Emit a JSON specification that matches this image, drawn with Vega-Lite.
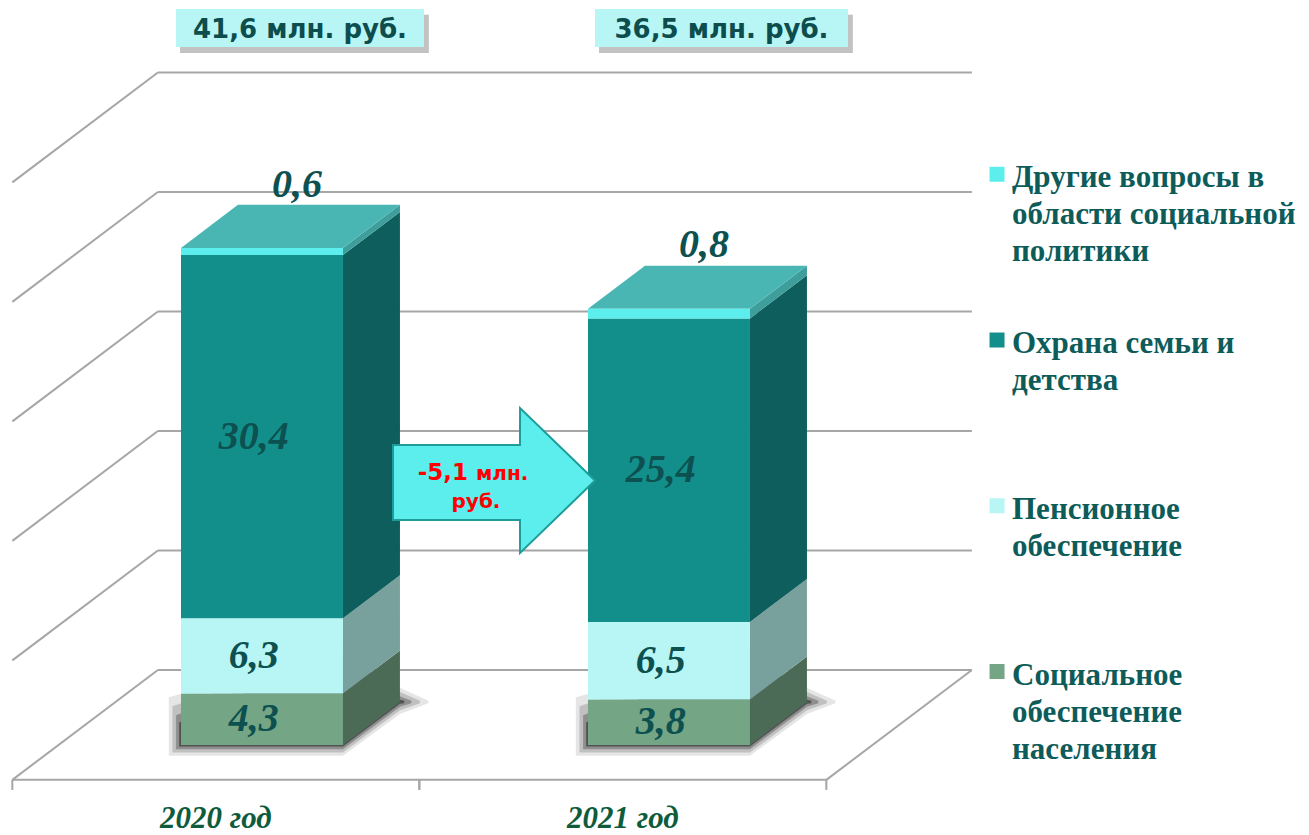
{
  "$schema": "https://vega.github.io/schema/vega-lite/v6.json",
  "width": 1309,
  "height": 835,
  "autosize": "none",
  "padding": 0,
  "background": "white",
  "config": {"view": {"stroke": null}},
  "datasets": {
    "budget": [
      {"year": "2020 год", "cat": "Социальное обеспечение населения", "value": 4.3},
      {"year": "2020 год", "cat": "Пенсионное обеспечение", "value": 6.3},
      {"year": "2020 год", "cat": "Охрана семьи и детства", "value": 30.4},
      {"year": "2020 год", "cat": "Другие вопросы в области социальной политики", "value": 0.6},
      {"year": "2021 год", "cat": "Социальное обеспечение населения", "value": 3.8},
      {"year": "2021 год", "cat": "Пенсионное обеспечение", "value": 6.5},
      {"year": "2021 год", "cat": "Охрана семьи и детства", "value": 25.4},
      {"year": "2021 год", "cat": "Другие вопросы в области социальной политики", "value": 0.8}
    ],
    "grid": [{"t": 0}, {"t": 10}, {"t": 20}, {"t": 30}, {"t": 40}, {"t": 50}],
    "change": [{"from": "2020 год", "to": "2021 год", "delta": -5.1}]
  },
  "layer": [
    {
      "data": {"name": "grid"},
      "transform": [{"calculate": "datum.t + 6.279", "as": "yb"}],
      "mark": {"type": "rule", "stroke": "#A6A6A6", "strokeWidth": 2},
      "encoding": {
        "x": {"datum": -0.2558, "type": "quantitative", "scale": {"domain": [-0.6437, 2.5725], "nice": false, "zero": false}, "axis": null},
        "x2": {"datum": 1.7442},
        "y": {"field": "yb", "type": "quantitative", "scale": {"domain": [-7.531, 62.343], "nice": false, "zero": false}, "axis": null}
      }
    },
    {
      "data": {"name": "grid"},
      "transform": [{"calculate": "datum.t + 6.279", "as": "yb"}, {"calculate": "datum.t - 2.916", "as": "yf"}],
      "mark": {"type": "rule", "stroke": "#A6A6A6", "strokeWidth": 2},
      "encoding": {
        "x": {"datum": -0.2558, "type": "quantitative", "scale": {"domain": [-0.6437, 2.5725], "nice": false, "zero": false}, "axis": null},
        "x2": {"datum": -0.6134},
        "y": {"field": "yb", "type": "quantitative", "scale": {"domain": [-7.531, 62.343], "nice": false, "zero": false}, "axis": null},
        "y2": {"field": "yf"}
      }
    },
    {
      "data": {"name": "grid"},
      "transform": [{"filter": "datum.t == 0"}, {"calculate": "datum.t - 2.916", "as": "yf"}],
      "mark": {"type": "rule", "stroke": "#A6A6A6", "strokeWidth": 2},
      "encoding": {
        "x": {"datum": -0.6134, "type": "quantitative", "scale": {"domain": [-0.6437, 2.5725], "nice": false, "zero": false}, "axis": null},
        "x2": {"datum": 1.3866},
        "y": {"field": "yf", "type": "quantitative", "scale": {"domain": [-7.531, 62.343], "nice": false, "zero": false}, "axis": null}
      }
    },
    {
      "data": {"name": "grid"},
      "transform": [{"filter": "datum.t == 0"}, {"calculate": "datum.t - 2.916", "as": "yf"}, {"calculate": "datum.t + 6.279", "as": "yb"}],
      "mark": {"type": "rule", "stroke": "#A6A6A6", "strokeWidth": 2},
      "encoding": {
        "x": {"datum": 1.3866, "type": "quantitative", "scale": {"domain": [-0.6437, 2.5725], "nice": false, "zero": false}, "axis": null},
        "x2": {"datum": 1.7442},
        "y": {"field": "yf", "type": "quantitative", "scale": {"domain": [-7.531, 62.343], "nice": false, "zero": false}, "axis": null},
        "y2": {"field": "yb"}
      }
    },
    {
      "data": {"name": "budget"},
      "transform": [
        {"calculate": "datum.year == '2020 год' ? 0 : 1", "as": "idx"},
        {"filter": "datum.cat == 'Социальное обеспечение населения'"},
        {"calculate": "[datum.idx - 0.6134, datum.idx + 0.3866]", "as": "tk"},
        {"flatten": ["tk"]}
      ],
      "mark": {"type": "rule", "stroke": "#A6A6A6", "strokeWidth": 2},
      "encoding": {
        "x": {"field": "tk", "type": "quantitative", "scale": {"domain": [-0.6437, 2.5725], "nice": false, "zero": false}, "axis": null},
        "y": {"datum": -2.916, "type": "quantitative", "scale": {"domain": [-7.531, 62.343], "nice": false, "zero": false}, "axis": null},
        "y2": {"datum": -3.76}
      }
    },
    {
      "data": {"name": "budget"},
      "transform": [
        {"calculate": "datum.year == '2020 год' ? 0 : 1", "as": "idx"},
        {"filter": "datum.cat == 'Социальное обеспечение населения'"},
        {"calculate": "[{s: 1.0, op: 0.1}, {s: 0.7, op: 0.16}, {s: 0.4, op: 0.26}, {s: 0.15, op: 0.42}]", "as": "lv"},
        {"flatten": ["lv"]},
        {"calculate": "datum.lv.s", "as": "s"},
        {"calculate": "datum.lv.op", "as": "op"},
        {"calculate": "[{px: -0.199 - 0.03 * datum.s, lo: -0.9 * datum.s, hi: 1.5 + 2.5 * datum.s}, {px: 0.199, lo: -0.9 * datum.s, hi: 8}, {px: 0.339, lo: 3.6 - 1.0 * datum.s, hi: 3.6 + 1.2 * datum.s}, {px: 0.339 + 0.07 * datum.s, lo: 3.5, hi: 3.7}]", "as": "pt"},
        {"flatten": ["pt"]},
        {"calculate": "datum.idx + datum.pt.px", "as": "sx"},
        {"calculate": "datum.pt.lo", "as": "slo"},
        {"calculate": "datum.pt.hi", "as": "shi"},
        {"calculate": "datum.year + '-' + datum.s", "as": "grp"}
      ],
      "mark": {"type": "area", "orient": "vertical", "color": "#000000"},
      "encoding": {
        "x": {"field": "sx", "type": "quantitative", "scale": {"domain": [-0.6437, 2.5725], "nice": false, "zero": false}, "axis": null},
        "y": {"field": "slo", "type": "quantitative", "stack": null, "scale": {"domain": [-7.531, 62.343], "nice": false, "zero": false}, "axis": null},
        "y2": {"field": "shi"},
        "opacity": {"field": "op", "type": "quantitative", "scale": null},
        "detail": {"field": "grp"}
      }
    },
    {
      "data": {"name": "budget"},
      "transform": [
        {"calculate": "datum.year == '2020 год' ? 0 : 1", "as": "idx"},
        {"calculate": "indexof(['Социальное обеспечение населения','Пенсионное обеспечение','Охрана семьи и детства','Другие вопросы в области социальной политики'], datum.cat)", "as": "ord"},
        {"stack": "value", "groupby": ["year"], "sort": [{"field": "ord", "order": "ascending"}], "as": ["v0", "v1"]},
        {"calculate": "[0, 1]", "as": "k"},
        {"flatten": ["k"]},
        {"calculate": "datum.idx + 0.199 + datum.k * 0.14", "as": "sx"},
        {"calculate": "datum.v0 + datum.k * 3.6", "as": "slo"},
        {"calculate": "datum.v1 + datum.k * 3.6", "as": "shi"},
        {"calculate": "'s' + datum.ord", "as": "key"}
      ],
      "mark": {"type": "area", "orient": "vertical"},
      "encoding": {
        "x": {"field": "sx", "type": "quantitative", "scale": {"domain": [-0.6437, 2.5725], "nice": false, "zero": false}, "axis": null},
        "y": {"field": "slo", "type": "quantitative", "stack": null, "scale": {"domain": [-7.531, 62.343], "nice": false, "zero": false}, "axis": null},
        "y2": {"field": "shi"},
        "color": {"field": "key", "type": "nominal", "legend": null, "scale": {"domain": ["f0", "f1", "f2", "f3", "s0", "s1", "s2", "s3", "t"], "range": ["#74A585", "#B8F6F5", "#128F8B", "#5BEEEC", "#4C6B57", "#78A09D", "#0D5E5C", "#3D9E9C", "#49B6B4"]}},
        "detail": {"field": "year"}
      }
    },
    {
      "data": {"name": "budget"},
      "transform": [
        {"calculate": "datum.year == '2020 год' ? 0 : 1", "as": "idx"},
        {"calculate": "indexof(['Социальное обеспечение населения','Пенсионное обеспечение','Охрана семьи и детства','Другие вопросы в области социальной политики'], datum.cat)", "as": "ord"},
        {"stack": "value", "groupby": ["year"], "sort": [{"field": "ord", "order": "ascending"}], "as": ["v0", "v1"]},
        {"filter": "datum.ord == 3"},
        {"calculate": "[0, 1]", "as": "k"},
        {"flatten": ["k"]},
        {"calculate": "datum.v1 + datum.k * 3.6", "as": "tv"},
        {"calculate": "datum.idx - 0.199 + datum.k * 0.14", "as": "tx1"},
        {"calculate": "datum.idx + 0.199 + datum.k * 0.14", "as": "tx2"},
        {"calculate": "'t'", "as": "key"}
      ],
      "mark": {"type": "area", "orient": "horizontal"},
      "encoding": {
        "y": {"field": "tv", "type": "quantitative", "scale": {"domain": [-7.531, 62.343], "nice": false, "zero": false}, "axis": null},
        "x": {"field": "tx1", "type": "quantitative", "stack": null, "scale": {"domain": [-0.6437, 2.5725], "nice": false, "zero": false}, "axis": null},
        "x2": {"field": "tx2"},
        "color": {"field": "key", "type": "nominal", "legend": null},
        "detail": {"field": "year"}
      }
    },
    {
      "data": {"name": "budget"},
      "transform": [
        {"calculate": "datum.year == '2020 год' ? 0 : 1", "as": "idx"},
        {"calculate": "indexof(['Социальное обеспечение населения','Пенсионное обеспечение','Охрана семьи и детства','Другие вопросы в области социальной политики'], datum.cat)", "as": "ord"},
        {"stack": "value", "groupby": ["year"], "sort": [{"field": "ord", "order": "ascending"}], "as": ["v0", "v1"]},
        {"calculate": "datum.idx - 0.199", "as": "xl"},
        {"calculate": "datum.idx + 0.199", "as": "xr"},
        {"calculate": "'f' + datum.ord", "as": "key"}
      ],
      "mark": {"type": "rect"},
      "encoding": {
        "x": {"field": "xl", "type": "quantitative", "scale": {"domain": [-0.6437, 2.5725], "nice": false, "zero": false}, "axis": null},
        "x2": {"field": "xr"},
        "y": {"field": "v0", "type": "quantitative", "scale": {"domain": [-7.531, 62.343], "nice": false, "zero": false}, "axis": null},
        "y2": {"field": "v1"},
        "color": {"field": "key", "type": "nominal", "legend": null}
      }
    },
    {
      "data": {"name": "budget"},
      "transform": [
        {"calculate": "datum.year == '2020 год' ? 0 : 1", "as": "idx"},
        {"calculate": "indexof(['Социальное обеспечение населения','Пенсионное обеспечение','Охрана семьи и детства','Другие вопросы в области социальной политики'], datum.cat)", "as": "ord"},
        {"stack": "value", "groupby": ["year"], "sort": [{"field": "ord", "order": "ascending"}], "as": ["v0", "v1"]},
        {"filter": "datum.ord < 3"},
        {"calculate": "datum.idx - 0.02", "as": "lx"},
        {"calculate": "(datum.v0 + datum.v1) / 2", "as": "ly"},
        {"calculate": "replace(toString(datum.value), '.', ',')", "as": "lab"}
      ],
      "mark": {"type": "text", "font": "Liberation Serif", "fontStyle": "italic", "fontWeight": "bold", "fontSize": 40, "color": "#0D5050", "align": "center", "baseline": "middle"},
      "encoding": {
        "x": {"field": "lx", "type": "quantitative", "scale": {"domain": [-0.6437, 2.5725], "nice": false, "zero": false}, "axis": null},
        "y": {"field": "ly", "type": "quantitative", "scale": {"domain": [-7.531, 62.343], "nice": false, "zero": false}, "axis": null},
        "text": {"field": "lab"}
      }
    },
    {
      "data": {"name": "budget"},
      "transform": [
        {"calculate": "datum.year == '2020 год' ? 0 : 1", "as": "idx"},
        {"calculate": "indexof(['Социальное обеспечение населения','Пенсионное обеспечение','Охрана семьи и детства','Другие вопросы в области социальной политики'], datum.cat)", "as": "ord"},
        {"stack": "value", "groupby": ["year"], "sort": [{"field": "ord", "order": "ascending"}], "as": ["v0", "v1"]},
        {"filter": "datum.ord == 3"},
        {"calculate": "datum.idx + 0.086", "as": "lx"},
        {"calculate": "datum.v1 + 3.6 + 1.7", "as": "ly"},
        {"calculate": "replace(toString(datum.value), '.', ',')", "as": "lab"}
      ],
      "mark": {"type": "text", "font": "Liberation Serif", "fontStyle": "italic", "fontWeight": "bold", "fontSize": 40, "color": "#0D5050", "align": "center", "baseline": "middle"},
      "encoding": {
        "x": {"field": "lx", "type": "quantitative", "scale": {"domain": [-0.6437, 2.5725], "nice": false, "zero": false}, "axis": null},
        "y": {"field": "ly", "type": "quantitative", "scale": {"domain": [-7.531, 62.343], "nice": false, "zero": false}, "axis": null},
        "text": {"field": "lab"}
      }
    },
    {
      "data": {"name": "budget"},
      "transform": [
        {"aggregate": [{"op": "sum", "field": "value", "as": "total"}], "groupby": ["year"]},
        {"calculate": "datum.year == '2020 год' ? 0 : 1", "as": "idx"},
        {"calculate": "datum.idx - 0.2113 + datum.idx * 0.0295 + 0.01", "as": "bx1"},
        {"calculate": "datum.idx + 0.398 + datum.idx * 0.0418 + 0.012", "as": "bx2"}
      ],
      "mark": {"type": "rect", "fill": "#777777", "opacity": 0.45},
      "encoding": {
        "x": {"field": "bx1", "type": "quantitative", "scale": {"domain": [-0.6437, 2.5725], "nice": false, "zero": false}, "axis": null},
        "x2": {"field": "bx2"},
        "y": {"datum": 57.9, "type": "quantitative", "scale": {"domain": [-7.531, 62.343], "nice": false, "zero": false}, "axis": null},
        "y2": {"datum": 61.1}
      }
    },
    {
      "data": {"name": "budget"},
      "transform": [
        {"aggregate": [{"op": "sum", "field": "value", "as": "total"}], "groupby": ["year"]},
        {"calculate": "datum.year == '2020 год' ? 0 : 1", "as": "idx"},
        {"calculate": "datum.idx - 0.2113 + datum.idx * 0.0295", "as": "bx1"},
        {"calculate": "datum.idx + 0.398 + datum.idx * 0.0418", "as": "bx2"}
      ],
      "mark": {"type": "rect", "fill": "#B8F6F5"},
      "encoding": {
        "x": {"field": "bx1", "type": "quantitative", "scale": {"domain": [-0.6437, 2.5725], "nice": false, "zero": false}, "axis": null},
        "x2": {"field": "bx2"},
        "y": {"datum": 58.41, "type": "quantitative", "scale": {"domain": [-7.531, 62.343], "nice": false, "zero": false}, "axis": null},
        "y2": {"datum": 61.59}
      }
    },
    {
      "data": {"name": "budget"},
      "transform": [
        {"aggregate": [{"op": "sum", "field": "value", "as": "total"}], "groupby": ["year"]},
        {"calculate": "datum.year == '2020 год' ? 0 : 1", "as": "idx"},
        {"calculate": "datum.idx + 0.0934 + datum.idx * 0.0356", "as": "cx"},
        {"calculate": "replace(format(datum.total, '.1f'), '.', ',') + ' млн. руб.'", "as": "lab"}
      ],
      "mark": {"type": "text", "font": "DejaVu Sans", "fontWeight": "bold", "fontSize": 26, "color": "#0D4D4D", "align": "center", "baseline": "alphabetic"},
      "encoding": {
        "x": {"field": "cx", "type": "quantitative", "scale": {"domain": [-0.6437, 2.5725], "nice": false, "zero": false}, "axis": null},
        "y": {"datum": 59.2, "type": "quantitative", "scale": {"domain": [-7.531, 62.343], "nice": false, "zero": false}, "axis": null},
        "text": {"field": "lab"}
      }
    },
    {
      "data": {"name": "change"},
      "transform": [
        {"calculate": "[{au: 0.3219, lo: 18.83, hi: 25.10}, {au: 0.6339, lo: 18.83, hi: 25.10}, {au: 0.6341, lo: 16.07, hi: 28.20}, {au: 0.8182, lo: 22.13, hi: 22.13}]", "as": "pts"},
        {"flatten": ["pts"]},
        {"calculate": "datum.pts.au", "as": "au"},
        {"calculate": "datum.pts.lo", "as": "alo"},
        {"calculate": "datum.pts.hi", "as": "ahi"}
      ],
      "mark": {"type": "area", "orient": "vertical", "fill": "#5CEEEC", "stroke": "#1E9C9A", "strokeWidth": 2, "opacity": 1},
      "encoding": {
        "x": {"field": "au", "type": "quantitative", "scale": {"domain": [-0.6437, 2.5725], "nice": false, "zero": false}, "axis": null},
        "y": {"field": "alo", "type": "quantitative", "stack": null, "scale": {"domain": [-7.531, 62.343], "nice": false, "zero": false}, "axis": null},
        "y2": {"field": "ahi"}
      }
    },
    {
      "data": {"name": "change"},
      "transform": [{"calculate": "replace(toString(datum.delta), '.', ',')", "as": "lab"}],
      "mark": {"type": "text", "font": "DejaVu Sans", "fontWeight": "bold", "fontSize": 23, "color": "#FF0000", "align": "right", "baseline": "alphabetic"},
      "encoding": {
        "x": {"datum": 0.5061, "type": "quantitative", "scale": {"domain": [-0.6437, 2.5725], "nice": false, "zero": false}, "axis": null},
        "y": {"datum": 22.18, "type": "quantitative", "scale": {"domain": [-7.531, 62.343], "nice": false, "zero": false}, "axis": null},
        "text": {"field": "lab"}
      }
    },
    {
      "data": {"name": "change"},
      "mark": {"type": "text", "font": "DejaVu Sans", "fontWeight": "bold", "fontSize": 20, "color": "#FF0000", "align": "left", "baseline": "alphabetic"},
      "encoding": {
        "x": {"datum": 0.5258, "type": "quantitative", "scale": {"domain": [-0.6437, 2.5725], "nice": false, "zero": false}, "axis": null},
        "y": {"datum": 22.18, "type": "quantitative", "scale": {"domain": [-7.531, 62.343], "nice": false, "zero": false}, "axis": null},
        "text": {"value": "млн."}
      }
    },
    {
      "data": {"name": "change"},
      "mark": {"type": "text", "font": "DejaVu Sans", "fontWeight": "bold", "fontSize": 20, "color": "#FF0000", "align": "center", "baseline": "alphabetic"},
      "encoding": {
        "x": {"datum": 0.5258, "type": "quantitative", "scale": {"domain": [-0.6437, 2.5725], "nice": false, "zero": false}, "axis": null},
        "y": {"datum": 19.83, "type": "quantitative", "scale": {"domain": [-7.531, 62.343], "nice": false, "zero": false}, "axis": null},
        "text": {"value": "руб."}
      }
    },
    {
      "data": {"name": "budget"},
      "transform": [
        {"filter": "datum.year == '2020 год'"},
        {"calculate": "indexof(['Социальное обеспечение населения','Пенсионное обеспечение','Охрана семьи и детства','Другие вопросы в области социальной политики'], datum.cat)", "as": "ord"},
        {"calculate": "6.15 + 13.87 * datum.ord", "as": "ly"},
        {"calculate": "'f' + datum.ord", "as": "key"}
      ],
      "mark": {"type": "point", "shape": "square", "filled": true, "size": 225, "opacity": 1},
      "encoding": {
        "x": {"datum": 1.806, "type": "quantitative", "scale": {"domain": [-0.6437, 2.5725], "nice": false, "zero": false}, "axis": null},
        "y": {"field": "ly", "type": "quantitative", "scale": {"domain": [-7.531, 62.343], "nice": false, "zero": false}, "axis": null},
        "color": {"field": "key", "type": "nominal", "legend": null}
      }
    },
    {
      "data": {"name": "budget"},
      "transform": [
        {"filter": "datum.year == '2020 год'"},
        {"calculate": "indexof(['Социальное обеспечение населения','Пенсионное обеспечение','Охрана семьи и детства','Другие вопросы в области социальной политики'], datum.cat)", "as": "ord"},
        {"calculate": "6.15 + 13.87 * datum.ord - 1.1", "as": "ly"},
        {"calculate": "datum.ord == 3 ? 'Другие вопросы в\\nобласти социальной\\nполитики' : datum.ord == 2 ? 'Охрана семьи и\\nдетства' : datum.ord == 1 ? 'Пенсионное\\nобеспечение' : 'Социальное\\nобеспечение\\nнаселения'", "as": "lab"}
      ],
      "mark": {"type": "text", "font": "Liberation Serif", "fontWeight": "bold", "fontSize": 31, "lineHeight": 37, "lineBreak": "\n", "color": "#0D5C5A", "align": "left", "baseline": "alphabetic"},
      "encoding": {
        "x": {"datum": 1.8428, "type": "quantitative", "scale": {"domain": [-0.6437, 2.5725], "nice": false, "zero": false}, "axis": null},
        "y": {"field": "ly", "type": "quantitative", "scale": {"domain": [-7.531, 62.343], "nice": false, "zero": false}, "axis": null},
        "text": {"field": "lab"}
      }
    },
    {
      "data": {"name": "budget"},
      "transform": [
        {"filter": "datum.cat == 'Социальное обеспечение населения'"},
        {"calculate": "datum.year == '2020 год' ? 0 : 1", "as": "idx"},
        {"calculate": "datum.idx - 0.1134", "as": "ax"}
      ],
      "mark": {"type": "text", "font": "Liberation Serif", "fontStyle": "italic", "fontWeight": "bold", "fontSize": 31, "color": "#0E5C3C", "align": "center", "baseline": "alphabetic"},
      "encoding": {
        "x": {"field": "ax", "type": "quantitative", "scale": {"domain": [-0.6437, 2.5725], "nice": false, "zero": false}, "axis": null},
        "y": {"datum": -6.95, "type": "quantitative", "scale": {"domain": [-7.531, 62.343], "nice": false, "zero": false}, "axis": null},
        "text": {"field": "year"}
      }
    }
  ]
}
